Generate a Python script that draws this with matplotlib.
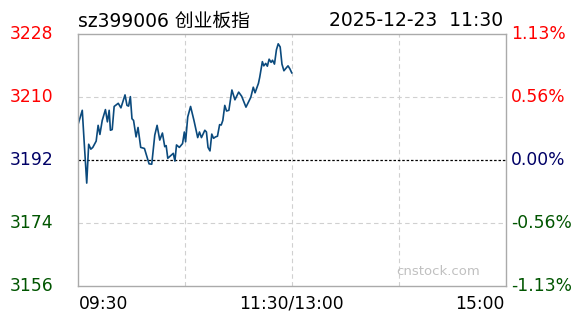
import matplotlib
matplotlib.use('Agg')
import matplotlib.pyplot as plt
from matplotlib.transforms import blended_transform_factory

# minutes since 09:30 and index level
minutes = [0, 2.4, 3.4, 4.9, 6.0, 7.2, 8.3, 10.2, 11.3, 12.3, 13.6, 15.4, 16.5, 17.5,
           18.2, 19.2, 20.3, 22.6, 24.1, 26.4, 27.5, 28.4, 29.4, 30.3, 31.2, 32.6,
           33.7, 35.2, 37.3, 39.9, 41.4, 43.1, 44.4, 45.9, 47.4, 48.7, 49.5, 50.4,
           53.5, 54.4, 55.3, 56.9, 58.7, 59.7, 60.4, 61.6, 63.2, 65.1, 67.2, 68.2,
           69.3, 71.2, 72.1, 73.0, 74.1, 75.1, 76.1, 77.2, 78.3, 79.5, 80.4, 81.3,
           82.4, 83.4, 84.7, 86.4, 88.1, 90.2, 91.9, 94.3, 97.0, 98.4, 99.4, 101.3,
           102.0, 103.5, 104.3, 105.4, 106.3, 107.3, 108.4, 109.2, 110.3, 111.4,
           112.4, 113.5, 114.5, 115.6, 116.9, 117.9, 119.0, 120]
prices = [3202.1, 3206.2, 3197.7, 3185.4, 3196.5, 3195.1, 3195.6, 3197.4, 3201.9,
          3199.3, 3203.3, 3206.4, 3202.9, 3206.2, 3200.5, 3200.7, 3207.3, 3208.2,
          3206.9, 3210.6, 3207.6, 3207.4, 3210.1, 3203.8, 3203.3, 3198.6, 3201.3,
          3195.6, 3195.3, 3190.9, 3190.8, 3199.1, 3201.9, 3197.7, 3199.7, 3195.8,
          3196.1, 3192.5, 3193.9, 3191.7, 3196.3, 3195.6, 3196.7, 3200.0, 3197.2,
          3204.3, 3207.3, 3203.3, 3198.4, 3200.0, 3198.4, 3200.5, 3200.0, 3195.6,
          3194.6, 3199.4, 3198.2, 3198.6, 3198.8, 3202.1, 3202.0, 3203.3, 3207.6,
          3206.0, 3206.2, 3212.0, 3209.2, 3211.4, 3210.2, 3207.1, 3209.9, 3212.8,
          3211.2, 3213.9, 3215.6, 3220.1, 3218.9, 3219.6, 3218.8, 3220.8, 3219.9,
          3220.5, 3219.4, 3223.5, 3225.2, 3224.3, 3219.4, 3217.5, 3218.3, 3218.9,
          3218.0, 3216.9]

prev_close = 3192
y_ticks = [3228, 3210, 3192, 3174, 3156]
pct_labels = ['1.13%', '0.56%', '0.00%', '-0.56%', '-1.13%']
tick_colors = ['#ff0000', '#ff0000', '#000066', '#005500', '#005500']
x_grid = [60, 120, 180]
x_labels = ['09:30', '11:30/13:00', '15:00']
title_left = 'sz399006 创业板指'
title_right = '2025-12-23  11:30'

W, H = 588, 324
fig = plt.figure(figsize=(W / 100, H / 100), dpi=100)
ax = fig.add_axes([78 / W, 1 - 286 / H, (505.5 - 78) / W, (286 - 34) / H])
ax.set_xlim(0, 240)
ax.set_ylim(3156, 3228)
ax.set_xticks([])
ax.set_yticks([])
for s in ax.spines.values():
    s.set_color('#aaaaaa')
    s.set_linewidth(1)

for x in x_grid:
    ax.axvline(x, color='#d0d0d0', lw=0.8, dashes=(4, 3))
for y in y_ticks[1:-1]:
    if y == prev_close:
        ax.axhline(y, color='black', lw=0.9, dashes=(2, 1.5))
    else:
        ax.axhline(y, color='#d0d0d0', lw=0.8, dashes=(4, 3))

ax.plot(minutes, prices, color='#0b4a7d', lw=1.2)

fs = 12.3
left_tr = blended_transform_factory(fig.transFigure, ax.transData)
for y, lab, c in zip(y_ticks, pct_labels, tick_colors):
    ax.text(10 / W, y, str(y), transform=left_tr, ha='left', va='center',
            color=c, fontsize=fs, clip_on=False)
    ax.text(511 / W, y, lab, transform=left_tr, ha='left', va='center',
            color=c, fontsize=fs, clip_on=False)

bot_tr = blended_transform_factory(ax.transData, fig.transFigure)
yb = 1 - 304 / H
ax.text(0.5, yb, x_labels[0], transform=bot_tr, ha='left', va='center', fontsize=fs)
ax.text(120, yb, x_labels[1], transform=bot_tr, ha='center', va='center', fontsize=fs)
ax.text(239.5, yb, x_labels[2], transform=bot_tr, ha='right', va='center', fontsize=fs)

fams = ['DejaVu Sans', 'Noto Sans CJK SC']
fig.text(78 / W, 1 - 21 / H, title_left, ha='left', va='center', fontsize=13.5, family=fams)
fig.text(503 / W, 1 - 21 / H, title_right, ha='right', va='center', fontsize=13.5, family=fams)

fig.text(480 / W, 1 - 271.5 / H, 'cnstock.com', ha='right', va='center',
         fontsize=9.5, color='#c0c0c0')

fig.savefig('out.png', dpi=100)
